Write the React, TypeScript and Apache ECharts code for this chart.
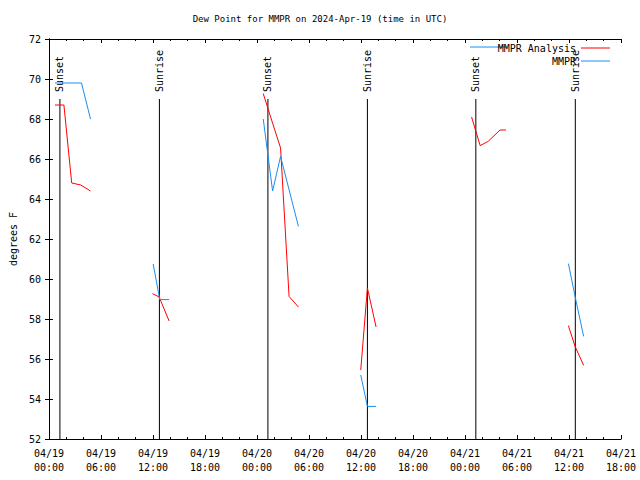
import React, { useEffect, useRef } from "react";
import * as echarts from "echarts";

const TITLE = "Dew Point for MMPR on 2024-Apr-19 (time in UTC)";
const Y_NAME = "degrees F";
const START_MS = Date.UTC(2024, 3, 19, 0, 0);

const X_MIN = 0;
const X_MAX = 66;
const X_STEP = 6;
const Y_MIN = 52;
const Y_MAX = 72;
const Y_STEP = 2;

// hours since 2024-04-19 00:00 UTC; null marks a gap between segments
const analysisHours = [
  0.69, 1.72, 2.62, 3.67, 4.79, null,
  11.94, 12.71, 13.86, null,
  24.72, 25.72, 26.72, 27.7, 28.78, null,
  35.97, 36.74, 37.74, null,
  48.76, 49.75, 50.67, 52.04, 52.73, null,
  59.93, 60.7, 61.69,
];
const analysisValues = [
  68.7, 68.7, 64.8, 64.7, 64.4, null,
  59.27, 59.1, 57.9, null,
  69.27, 67.9, 66.55, 59.13, 58.6, null,
  55.45, 59.55, 57.6, null,
  68.1, 66.67, 66.88, 67.45, 67.45, null,
  57.67, 56.63, 55.68,
];

const obsHours = [
  0.69, 3.75, 4.79, null,
  12.02, 12.78, 13.86, null,
  24.72, 25.8, 26.72, 28.78, null,
  35.97, 36.74, 37.74, null,
  59.93, 60.7, 61.69,
];
const obsValues = [
  69.8, 69.8, 68.0, null,
  60.75, 58.97, 58.97, null,
  68.0, 64.4, 66.13, 62.63, null,
  55.2, 53.63, 53.63, null,
  60.77, 59.13, 57.13,
];

const sunHours = [1.26, 12.74, 25.26, 36.74, 49.25, 60.73];
const sunLabels = ["Sunset", "Sunrise", "Sunset", "Sunrise", "Sunset", "Sunrise"];
const SUN_LINE_TOP = 69;

const RED = "#ff0000";
const BLUE = "#1a8cf0";
const FONT = "DejaVu Sans Mono";

function toSeriesData(hours: (number | null)[], values: (number | null)[]) {
  return hours.map((h, i) =>
    h == null || values[i] == null ? [hours[i - 1] as number, "-"] : [h, values[i]]
  );
}

function pad(n: number) {
  return n < 10 ? "0" + n : "" + n;
}

function formatHour(h: number) {
  const d = new Date(START_MS + h * 3600 * 1000);
  return (
    pad(d.getUTCMonth() + 1) + "/" + pad(d.getUTCDate()) + "\n" +
    pad(d.getUTCHours()) + ":" + pad(d.getUTCMinutes())
  );
}

export default function App() {
  const ref = useRef<HTMLDivElement>(null);

  useEffect(() => {
    if (!ref.current) return;
    const chart = echarts.init(ref.current, null, { renderer: "svg" });
    const axisLine = { show: true, lineStyle: { color: "#000", width: 1 } };
    const textBase = { fontFamily: FONT, fontSize: 10, color: "#000" };

    const xCommon = {
      type: "value" as const,
      min: X_MIN,
      max: X_MAX,
      interval: X_STEP,
      axisLine,
      axisTick: { show: true, inside: true, length: 4, lineStyle: { color: "#000" } },
      minorTick: { show: true, splitNumber: 3, length: 2, lineStyle: { color: "#000" } },
      splitLine: { show: false },
      minorSplitLine: { show: false },
    };
    const yCommon = {
      type: "value" as const,
      min: Y_MIN,
      max: Y_MAX,
      interval: Y_STEP,
      axisLine,
      axisTick: { show: true, inside: true, length: 4, lineStyle: { color: "#000" } },
      splitLine: { show: false },
    };

    chart.setOption({
      animation: false,
      backgroundColor: "#fff",
      title: {
        text: TITLE,
        left: "center",
        top: 14,
        padding: 0,
        textStyle: { ...textBase, fontSize: 9, fontWeight: "normal" },
      },
      legend: [
        {
          data: ["MMPR Analysis"],
          right: 30,
          top: 43,
          padding: 0,
          align: "right",
          icon: "rect",
          itemWidth: 29,
          itemHeight: 1,
          textStyle: textBase,
        },
        {
          data: ["MMPR"],
          right: 30,
          top: 56,
          padding: 0,
          align: "right",
          icon: "rect",
          itemWidth: 29,
          itemHeight: 1,
          textStyle: textBase,
        },
      ],
      grid: { left: 46, right: 19, top: 39, bottom: 41 },
      xAxis: [
        {
          ...xCommon,
          position: "bottom",
          axisLabel: {
            ...textBase,
            margin: 7,
            lineHeight: 14,
            formatter: (v: number) => formatHour(v),
          },
        },
        { ...xCommon, position: "top", axisLabel: { show: false } },
      ],
      yAxis: [
        {
          ...yCommon,
          position: "left",
          name: Y_NAME,
          nameLocation: "middle",
          nameGap: 31,
          nameRotate: 90,
          nameTextStyle: textBase,
          axisLabel: { ...textBase, margin: 8 },
        },
        { ...yCommon, position: "right", axisLabel: { show: false } },
      ],
      series: [
        {
          type: "custom",
          name: "sun",
          xAxisIndex: 0,
          yAxisIndex: 0,
          silent: true,
          data: sunHours.map((h) => [h, SUN_LINE_TOP]),
          encode: { x: 0, y: 1 },
          renderItem: (params: any, api: any) => {
            const t = api.value(0);
            const top = api.coord([t, api.value(1)]);
            const bottom = api.coord([t, Y_MIN]);
            return {
              type: "group",
              children: [
                {
                  type: "line",
                  shape: { x1: top[0], y1: top[1], x2: bottom[0], y2: bottom[1] },
                  style: { stroke: "#000", lineWidth: 1 },
                },
                {
                  type: "text",
                  x: top[0],
                  y: top[1] - 7,
                  rotation: Math.PI / 2,
                  style: {
                    text: sunLabels[params.dataIndex],
                    fill: "#000",
                    fontFamily: FONT,
                    fontSize: 10,
                    align: "left",
                    verticalAlign: "middle",
                  },
                },
              ],
            };
          },
        },
        {
          type: "line",
          name: "MMPR Analysis",
          data: toSeriesData(analysisHours, analysisValues),
          showSymbol: false,
          connectNulls: false,
          color: RED,
          lineStyle: { color: RED, width: 1 },
        },
        {
          type: "line",
          name: "MMPR",
          data: toSeriesData(obsHours, obsValues),
          showSymbol: false,
          connectNulls: false,
          color: BLUE,
          lineStyle: { color: BLUE, width: 1 },
        },
      ],
      graphic: [
        {
          type: "line",
          shape: { x1: 470, y1: 47, x2: 507, y2: 47 },
          style: { stroke: BLUE, lineWidth: 1 },
        },
      ],
    });

    return () => chart.dispose();
  }, []);

  return (
    <div
      ref={ref}
      style={{ position: "absolute", left: 0, top: 0, width: 640, height: 480 }}
    />
  );
}
